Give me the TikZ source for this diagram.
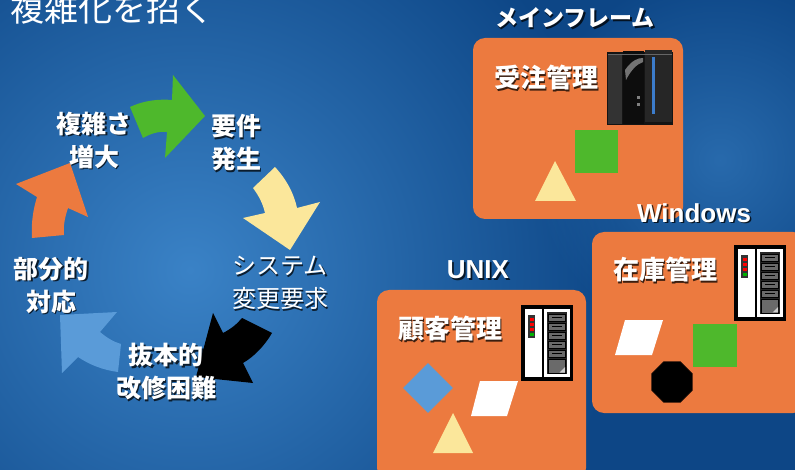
\documentclass[tikz,border=0pt]{standalone}
\usepackage{fontspec}
\setmainfont{Noto Sans CJK JP}
\newfontfamily\latinsans{Liberation Sans}
\usetikzlibrary{shapes.geometric,fadings}

\definecolor{bgdark}{HTML}{0D4686}
\definecolor{bgmid}{HTML}{1E62A8}
\definecolor{bglight}{HTML}{3A82C6}
\definecolor{boxorange}{HTML}{EC7A3F}
\definecolor{cycgreen}{HTML}{4EB82C}
\definecolor{cycyellow}{HTML}{FBE79B}
\definecolor{cycblue}{HTML}{5A9BD8}
\definecolor{cycorange}{HTML}{EC7A3F}
\definecolor{baygray}{HTML}{6A6A6A}
\definecolor{rackblue}{HTML}{3C7CCB}

\tikzfading[name=softspot, inner color=transparent!40, outer color=transparent!100]

% white label with a dark drop shadow
\newcommand\castlabel[4][lbl]{%
  \node[#1, text=black, opacity=0.75, xshift=1.6pt, yshift=-1.6pt] (#2-shadow) at #3 {#4};
  \node[#1] (#2) at #3 {#4};}

\tikzset{
  lbl/.style={text=white, inner sep=0pt, align=center,
    font=\bfseries\fontsize{25}{33}\selectfont},
  lblthin/.style={text=white, inner sep=0pt, align=center,
    font=\fontsize{24}{33}\selectfont},
  boxlbl/.style={text=white, inner sep=0pt, font=\bfseries\fontsize{26}{30}\selectfont},
  oslbl/.style={text=white, inner sep=0pt, font=\latinsans\bfseries\fontsize{26}{30}\selectfont},
  oslbljp/.style={text=white, inner sep=0pt, font=\bfseries\fontsize{23}{28}\selectfont},
  sysbox/.style={fill=boxorange, rounded corners=12pt, inner sep=0pt, outer sep=0pt},
  serverpic/.pic={
    \fill[black] (0,0) rectangle (52,76);
    \fill[white] (4,4) rectangle (21,72);
    \fill[black!80] (7,10) rectangle (14,33);
    \foreach \yy in {13,18,23} \fill[red] (8.5,\yy) rectangle (12.5,\yy+3);
    \fill[green!70!black] (8.5,28) rectangle (12.5,31);
    \fill[white] (23,4) rectangle (49,72);
    \fill[black!85] (26,7) rectangle (46,69);
    \foreach \i in {0,...,4} {
      \draw[black, fill=baygray, line width=0.6pt] (27.5,9+\i*9) rectangle (44.5,16+\i*9);
      \fill[black] (31,11.8+\i*9) rectangle (41,13.2+\i*9);
    }
    \draw[black, fill=baygray, line width=0.6pt] (27.5,54) rectangle (44.5,68);
    \fill[black!20] (44,62) -- (44,67.5) -- (38.5,67.5) -- cycle;
  }
}

\begin{document}
\begin{tikzpicture}[x=1pt, y=-1pt]
\useasboundingbox (0,0) rectangle (795,470);
\clip (0,0) rectangle (795,470);

% backdrop
\fill[bgdark] (0,0) rectangle (795,470);
\shade[inner color=bglight, outer color=bgdark] (190,270) circle (430);
\fill[bglight, path fading=softspot] (720,160) circle (190);

% title
\node[text=white, inner sep=0pt, font=\fontsize{34}{36}\selectfont] (title) at (112,9) {複雑化を招く};

% cycle of arrows
\fill[cycgreen] (130,107) .. controls (145,100) and (160,99) .. (172,100)
  -- (173,75) -- (205,116) -- (165,158) -- (167,132)
  .. controls (158,131) and (150,134) .. (143,138) -- cycle;
\fill[cycyellow] (275,167) .. controls (287,180) and (294,194) .. (297,208)
  -- (320,202) -- (290,250) -- (243,218) -- (265,213)
  .. controls (263,204) and (259,196) .. (253,188) -- cycle;
\fill[black] (272,333) .. controls (265,345) and (255,356) .. (243,363)
  -- (253,383) -- (196,377) -- (213,313) -- (223,333)
  .. controls (231,329) and (237,324) .. (242,318) -- cycle;
\fill[cycblue] (118,372) .. controls (103,370) and (90,365) .. (78,357)
  -- (62,373) -- (60,315) -- (117,312) -- (100,332)
  .. controls (107,338) and (114,342) .. (121,344) -- cycle;
\fill[cycorange] (32,238) .. controls (31,224) and (33,210) .. (37,197)
  -- (16,184) -- (70,163) -- (88,217) -- (68,208)
  .. controls (65,217) and (63,226) .. (64,235) -- cycle;

% cycle labels
\castlabel{grow}{(94,140)}{複雑さ\\増大}
\castlabel{req}{(236,143)}{要件\\発生}
\castlabel[lblthin]{chg}{(280,283)}{システム\\変更要求}
\castlabel{hard}{(166,372)}{抜本的\\改修困難}
\castlabel{part}{(51,285)}{部分的\\対応}

% mainframe system
\castlabel[oslbljp]{mflabel}{(575,18)}{メインフレーム}
\node[sysbox, minimum width=210pt, minimum height=181pt] (mfbox) at (578,128.5) {};
\castlabel[boxlbl]{order}{(546,78)}{受注管理}
% mainframe cabinet
\fill[black!92] (607,52) rectangle (673,125);
\fill[black!80] (608,54) rectangle (622,124);
\fill[black!95] (623,51) rectangle (644,124);
\fill[black!85] (645,50) rectangle (672,122);
\fill[black!60] (608,54) rectangle (672,55.5);
\fill[rackblue] (652,57) rectangle (655,114);
\fill[black!55] (625,70) .. controls (632,60) and (638,58) .. (643,58) -- (643,62) .. controls (637,64) and (631,70) .. (626,80) -- cycle;
\fill[black!50] (637,96) rectangle (640,99);
\fill[black!50] (637,103) rectangle (640,106);
\fill[cycgreen] (575,130) rectangle (618,173);
\fill[cycyellow] (555,161) -- (576,201) -- (535,201) -- cycle;

% Windows system
\castlabel[oslbl]{winlabel}{(694,213)}{Windows}
\node[sysbox, minimum width=213pt, minimum height=181pt] (winbox) at (698.5,322.5) {};
\castlabel[boxlbl]{stock}{(665,270)}{在庫管理}
\pic at (734,245) {serverpic};
\fill[white] (625,320) -- (663,320) -- (652,355) -- (615,355) -- cycle;
\fill[cycgreen] (693,324) rectangle (737,367);
\node[regular polygon, regular polygon sides=8, minimum size=44pt, inner sep=0pt,
  fill=black, draw=black!75!boxorange, line width=0.6pt] (octa) at (672,382) {};

% UNIX system
\castlabel[oslbl]{unixlabel}{(478,270)}{UNIX}
\node[sysbox, minimum width=209pt, minimum height=190pt] (unixbox) at (481.5,385) {};
\castlabel[boxlbl]{cust}{(450,329)}{顧客管理}
\pic at (521,305) {serverpic};
\node[diamond, fill=cycblue, minimum width=50pt, minimum height=50pt, inner sep=0pt] (dia) at (428,388) {};
\fill[white] (480,381) -- (518,381) -- (507,416) -- (471,416) -- cycle;
\fill[cycyellow] (453,413) -- (473,453) -- (433,453) -- cycle;
\end{tikzpicture}
\end{document}
